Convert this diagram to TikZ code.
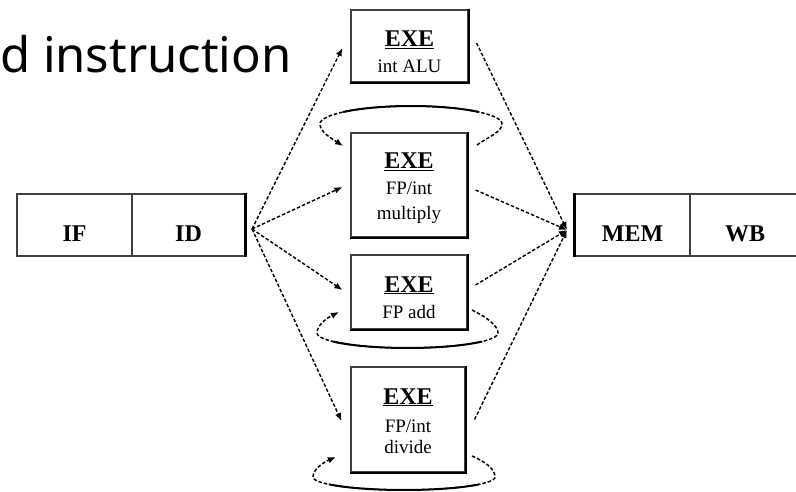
\documentclass[tikz,border=0pt]{standalone}
\usepackage{fontspec}
\setmainfont{Liberation Serif}
\newfontfamily\titlefont{Noto Sans}
\usetikzlibrary{arrows.meta}

\tikzset{
  stagebox/.style={draw=black!75, line width=1.1pt, inner sep=0pt, fill=white},
  heavyedge/.style={draw=black, line width=2.2pt},
  unitname/.style={font=\bfseries\fontsize{24}{24}\selectfont, inner sep=0pt, anchor=base},
  unitsub/.style={font=\fontsize{19}{19}\selectfont, inner sep=0pt, anchor=base},
  stagename/.style={font=\bfseries\fontsize{24}{24}\selectfont, inner sep=0pt, anchor=base},
  flow/.style={dash pattern=on 3.5pt off 2pt, line width=1.4pt,
    -{Latex[length=8pt,width=6.5pt]}},
  loopdash/.style={dash pattern=on 3.5pt off 2pt, line width=1.5pt,
    -{Latex[length=8pt,width=6.5pt]}},
  loopsolid/.style={line width=2pt, line cap=round},
}

\begin{document}
\begin{tikzpicture}[x=1pt, y=-1pt]
\useasboundingbox (0,0) rectangle (796,492);
\clip (0,0) rectangle (796,492);

% heading fragment
\node[anchor=base west, inner sep=0pt, font=\titlefont\fontsize{49}{49}\selectfont]
  (heading) at (0,73) {d instruction};

% front and back of the pipeline
\node[stagebox, minimum width=115pt, minimum height=62pt] (if)  at (74.5,225) {};
\node[stagebox, minimum width=113pt, minimum height=62pt] (id)  at (188.5,225) {};
\node[stagebox, minimum width=115pt, minimum height=62pt] (mem) at (632.5,225) {};
\node[stagebox, minimum width=110pt, minimum height=62pt] (wb)  at (745,225) {};
\draw[heavyedge] (id.north east) -- (id.south east);
\draw[heavyedge] (mem.north west) -- (mem.south west);

\node[stagename] (tif)  at (74.5,242) {IF};
\node[stagename] (tid)  at (188.5,242) {ID};
\node[stagename] (tmem) at (632.5,242) {MEM};
\node[stagename] (twb)  at (745,242) {WB};

% execution units
\node[stagebox, minimum width=117pt, minimum height=72pt]  (alu) at (409.5,46) {};
\node[stagebox, minimum width=116pt, minimum height=104pt] (mul) at (409,185) {};
\node[stagebox, minimum width=116pt, minimum height=74pt]  (add) at (409,292) {};
\node[stagebox, minimum width=114pt, minimum height=105pt] (div) at (408,419.5) {};
\foreach \u in {alu,mul,add,div}{
  \draw[heavyedge, line width=2pt] (\u.north east) -- (\u.south east) -- (\u.south west);
}

\node[unitname] (alu1) at (409.5,47) {\underline{EXE}};
\node[unitsub]  (alu2) at (409.5,73) {int ALU};
\node[unitname] (mul1) at (409,169) {\underline{EXE}};
\node[unitsub]  (mul2) at (409,195) {FP/int};
\node[unitsub]  (mul3) at (409,219) {multiply};
\node[unitname] (add1) at (409,292) {\underline{EXE}};
\node[unitsub]  (add2) at (409,318) {FP add};
\node[unitname] (div1) at (408,404) {\underline{EXE}};
\node[unitsub]  (div2) at (408,432) {FP/int};
\node[unitsub]  (div3) at (408,453) {divide};

% issue and completion points
\coordinate (fan)  at (252,229);
\coordinate (join) at (567,230);

\draw[flow] (fan) -- ([xshift=-8pt, yshift=-2pt]alu.west);
\draw[flow] (fan) -- ([xshift=-8pt, yshift=-2pt]mul.west);
\draw[flow] (fan) -- ([xshift=-8pt, yshift=2pt]add.west);
\draw[flow] (fan) -- ([xshift=-9pt, yshift=-1.5pt]div.west);

\draw[flow] ([xshift=8pt, yshift=3pt]alu.east) -- (join);
\draw[flow] ([xshift=8pt, yshift=-5pt]mul.east) -- (join);
\draw[flow] ([xshift=8pt, yshift=7pt]add.east) -- (join);
\draw[flow] ([xshift=9pt]div.east) -- (join);

% recirculation loops of the pipelined units
\coordinate (m1) at (477,145);
\coordinate (m2) at (343,146);
\draw[loopdash] (m1) .. controls (488,137) and (502,132) .. (502,124)
  -- plot[domain=0:180, samples=40] ({411+91*cos(\x)},{124-18*sin(\x)})
  .. controls (320,132) and (331,138) .. (m2);
\draw[loopsolid] plot[domain=42:138, samples=30] ({411+91*cos(\x)},{124-18*sin(\x)});

\coordinate (a1) at (472,310);
\coordinate (a2) at (339,312);
\draw[loopdash] (a1) .. controls (488,318) and (498,326) .. (498,333)
  -- plot[domain=0:180, samples=40] ({407.5+90.5*cos(\x)},{333+15*sin(\x)})
  .. controls (317,325) and (327,318) .. (a2);
\draw[loopsolid] plot[domain=35:145, samples=30] ({407.5+90.5*cos(\x)},{333+15*sin(\x)});

\coordinate (d1) at (472,456);
\coordinate (d2) at (336,457);
\draw[loopdash] (d1) .. controls (488,463) and (495,470) .. (495,477)
  -- plot[domain=0:180, samples=40] ({404+91*cos(\x)},{477+13*sin(\x)})
  .. controls (313,469) and (324,462) .. (d2);
\draw[loopsolid] plot[domain=35:145, samples=30] ({404+91*cos(\x)},{477+13*sin(\x)});
\end{tikzpicture}
\end{document}
